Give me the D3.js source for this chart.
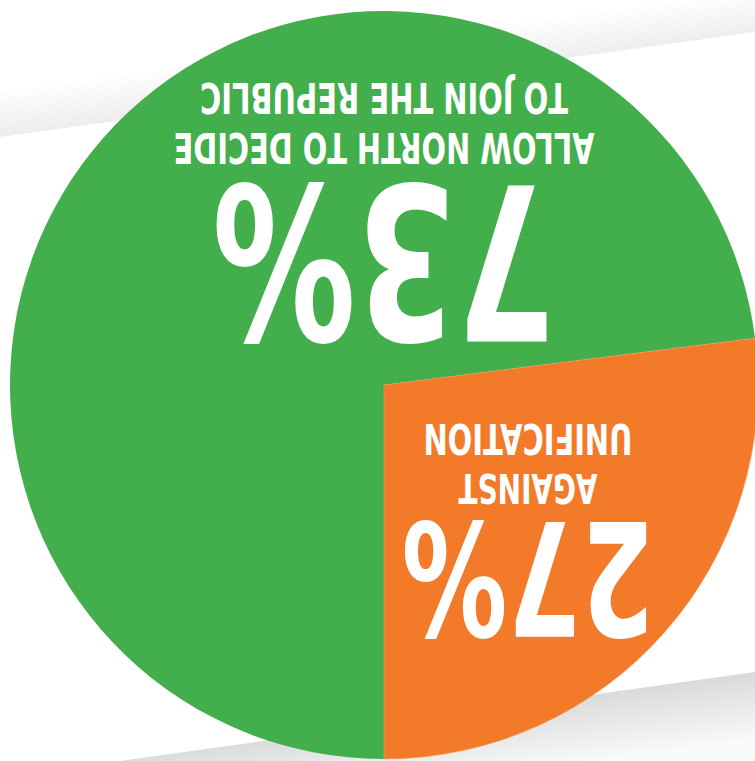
<!DOCTYPE html>
<html lang="en">
<head>
    <meta charset="UTF-8">
    <title>Unification poll</title>
    <script src="https://cdn.jsdelivr.net/npm/d3@7"></script>
    <style>
        body { margin: 0; background: #fff; }
        .lbl {
            font-family: "Liberation Sans Narrow", "DejaVu Sans Condensed", "Roboto Condensed", sans-serif;
            font-weight: bold;
            font-stretch: condensed;
            fill: #fff;
        }
    </style>
</head>
<body>
    <script>
        // data
        let categories = ["Allow North to decide to join the Republic", "Against unification"]
        let values = [73, 27]
        let pctLabels = ["73%", "27%"]
        let subLabels = [["ALLOW NORTH TO DECIDE", "TO JOIN THE REPUBLIC"], ["AGAINST", "UNIFICATION"]]

        let colors = ["#42ae4c", "#f27a29"]

        let w = 755, h = 761
        let cx = 384, cy = 385, r = 374

        // label layout (in the pie's own frame, before the 180deg turn)
        let layout = [
            { x: 0, big: { y: 200, size: 214, len: 344 }, lines: [{ y: 252, size: 43, len: 421 }, { y: 302, size: 43, len: 368 }] },
            { x: -144, big: { y: -137, size: 156, len: 253 }, lines: [{ y: -89, size: 41, len: 139 }, { y: -39, size: 42, len: 209 }] }
        ]

        let svg = d3.select("body").append("svg")
            .attr("width", w)
            .attr("height", h)

        let defs = svg.append("defs")

        // paper shadow bands behind the pie
        let g1 = defs.append("linearGradient").attr("id", "bandTop")
            .attr("gradientUnits", "userSpaceOnUse")
            .attr("x1", 377).attr("y1", 85).attr("x2", 371).attr("y2", 40)
        g1.append("stop").attr("offset", 0).attr("stop-color", "#ededed")
        g1.append("stop").attr("offset", 1).attr("stop-color", "#ffffff")

        let g2 = defs.append("linearGradient").attr("id", "bandBot")
            .attr("gradientUnits", "userSpaceOnUse")
            .attr("x1", 600).attr("y1", 693).attr("x2", 609).attr("y2", 761)
        g2.append("stop").attr("offset", 0).attr("stop-color", "#dadada")
        g2.append("stop").attr("offset", 1).attr("stop-color", "#fafafa")

        svg.append("path")
            .attr("d", "M0,137 L755,32 L755,0 L0,0 Z")
            .attr("fill", "url(#bandTop)")

        svg.append("path")
            .attr("d", "M120,761 L755,672 L755,761 Z")
            .attr("fill", "url(#bandBot)")

        let pie = d3.pie().sort(null)
        let arc = d3.arc().innerRadius(0).outerRadius(r)

        // the whole chart is printed upside down
        let g = svg.append("g")
            .attr("transform", "translate(" + cx + "," + cy + ") rotate(180)")

        let slices = pie(values)

        g.selectAll("path.slice")
            .data(slices)
            .enter()
            .append("path")
            .attr("class", "slice")
            .attr("d", arc)
            .attr("fill", (d, i) => colors[i])
            .attr("stroke", (d, i) => i == 1 ? "#f59b5e" : "none")
            .attr("stroke-width", 0.6)

        slices.forEach((d, i) => {
            let L = layout[i]
            g.append("text")
                .attr("class", "lbl")
                .attr("x", L.x)
                .attr("y", L.big.y)
                .attr("text-anchor", "middle")
                .attr("font-size", L.big.size)
                .attr("textLength", L.big.len)
                .attr("lengthAdjust", "spacingAndGlyphs")
                .text(pctLabels[i])

            subLabels[i].forEach((t, j) => {
                g.append("text")
                    .attr("class", "lbl")
                    .attr("x", L.x)
                    .attr("y", L.lines[j].y)
                    .attr("text-anchor", "middle")
                    .attr("font-size", L.lines[j].size)
                    .attr("textLength", L.lines[j].len)
                    .attr("lengthAdjust", "spacingAndGlyphs")
                    .text(t)
            })
        })
    </script>
</body>
</html>
